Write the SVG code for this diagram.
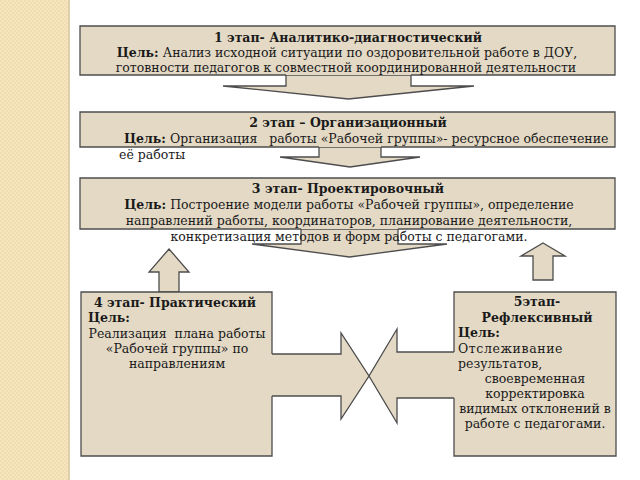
<svg xmlns="http://www.w3.org/2000/svg" width="640" height="480" viewBox="0 0 640 480">
<style>
.box{fill:#e3d9c5;stroke:none}
.bd{fill:none;stroke:#4d4d4d;stroke-width:1.3}
.arr{fill:#e3d9c5;stroke:#4d4d4d;stroke-width:1.3;stroke-linejoin:miter}
text{font-family:"DejaVu Serif","Liberation Serif",serif;font-size:12.5px;fill:#1a1a1a;white-space:pre}
.b{font-weight:bold}
.c{text-anchor:middle}
.ls{letter-spacing:0.6px}
</style>
<defs>
<pattern id="dots" width="4" height="4" patternUnits="userSpaceOnUse">
<rect width="4" height="4" fill="#f5e6bf"/>
<rect x="0" y="0" width="2" height="2" fill="#efddb0"/>
<rect x="2" y="2" width="2" height="2" fill="#efddb0"/>
</pattern>
</defs>
<rect width="640" height="480" fill="#ffffff"/>
<rect x="0" y="0" width="68" height="480" fill="url(#dots)"/>
<rect x="68" y="0" width="2" height="480" fill="#ddcfab"/>

<g id="connectors">
<polygon class="arr" points="286,75 286,86 223,86 348.5,99 474,86 411,86 411,75"/>
<polygon class="arr" points="319,147 319,157 280,157 350,167 420,157 381,157 381,147"/>
<polygon class="arr" points="301,229 301,244 252,244 349.5,257 447,244 398,244 398,229"/>
<polygon class="arr" points="169,249 189,272 179,272 179,292 159,292 159,272 149,272"/>
<polygon class="arr" points="543,243 565,256 553,256 553,280 533,280 533,256 521,256"/>
<polygon class="arr" points="271,354 341,354 341,333 369,376 341,419 341,396 271,396"/>
<polygon class="arr" points="455,352 397,352 397,329 369,376 397,423 397,398 455,398"/>
</g>

<g id="node1">
<rect class="box" x="80" y="26" width="535" height="49"/>
<path class="bd" d="M286,75 H80 V26 H615 V75 H411"/>
<text class="b c" x="348" y="42">1 этап- Аналитико-диагностический</text>
<text class="c" x="347" y="57"><tspan class="b">Цель:</tspan> Анализ исходной ситуации по оздоровительной работе в ДОУ,</text>
<text class="c" x="346" y="72">готовности педагогов к совместной координированной деятельности</text>
</g>

<g id="node2">
<rect class="box" x="80" y="112" width="535" height="35"/>
<path class="bd" d="M319,147 H80 V112 H615 V147 H381"/>
<text class="b c" x="348" y="127">2 этап – Организационный</text>
<text x="124" y="143"><tspan class="b">Цель:</tspan> Организация   работы «Рабочей группы»- ресурсное обеспечение</text>
<text x="119" y="159">её работы</text>
</g>

<g id="node3">
<rect class="box" x="80" y="178" width="535" height="51"/>
<path class="bd" d="M301,229 H80 V178 H615 V229 H398"/>
<text class="b c" x="348" y="193">3 этап- Проектировочный</text>
<text class="c" x="349" y="209"><tspan class="b">Цель:</tspan> Построение модели работы «Рабочей группы», определение</text>
<text class="c" x="349" y="225">направлений работы, координаторов, планирование деятельности,</text>
<text class="c" x="349" y="241">конкретизация методов и форм работы с педагогами.</text>
</g>

<g id="node4">
<rect class="box" x="81" y="292" width="191" height="164"/>
<path class="bd" d="M272,354 V292 H81 V456 H272 V396"/>
<text class="b c" x="175" y="307">4 этап- Практический</text>
<text class="b" x="88" y="322">Цель:</text>
<text class="c" x="177" y="338">Реализация  плана работы</text>
<text class="c" x="177" y="353">«Рабочей группы» по</text>
<text class="c" x="177" y="368">направлениям</text>
</g>

<g id="node5">
<rect class="box" x="454" y="292" width="162" height="164"/>
<path class="bd" d="M454,352 V292 H616 V456 H454 V398"/>
<text class="b c" x="537" y="306">5этап-</text>
<text class="b c" x="537" y="322">Рефлексивный</text>
<text class="b" x="458" y="337">Цель:</text>
<text class="ls" x="458" y="353">Отслеживание</text>
<text x="458" y="368">результатов,</text>
<text class="c" x="535" y="383">своевременная</text>
<text class="c" x="535" y="398">корректировка</text>
<text class="c" x="535" y="413">видимых отклонений в</text>
<text class="c" x="535" y="428">работе с педагогами.</text>
</g>
</svg>
